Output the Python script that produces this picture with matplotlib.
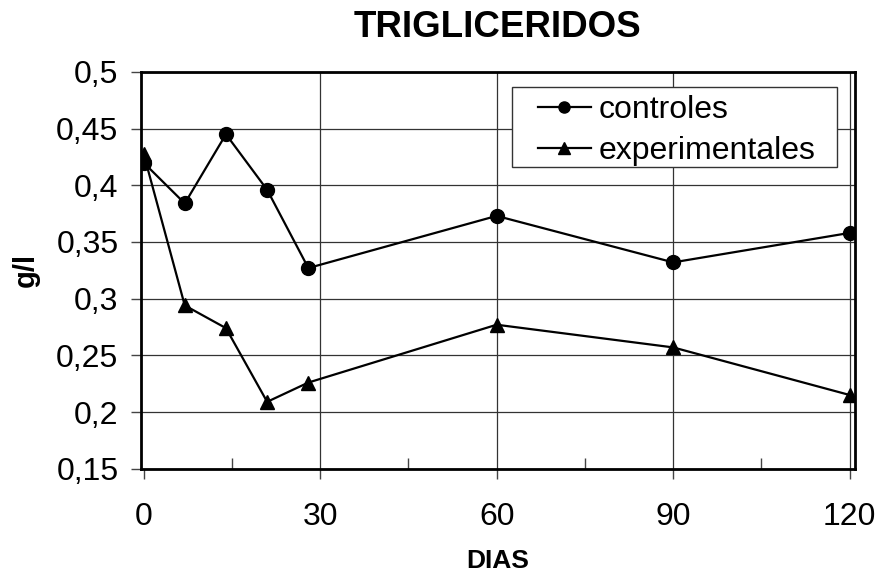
import matplotlib
matplotlib.use("Agg")
import matplotlib.pyplot as plt
import matplotlib.ticker as ticker
from matplotlib.patches import Rectangle

# days of treatment
dias = [0, 7, 14, 21, 28, 60, 90, 120]
controles = [0.420, 0.384, 0.445, 0.396, 0.327, 0.373, 0.332, 0.358]
experimentales = [0.428, 0.294, 0.274, 0.209, 0.226, 0.277, 0.257, 0.215]

y_ticks = [0.15, 0.2, 0.25, 0.3, 0.35, 0.4, 0.45, 0.5]
x_ticks = [0, 30, 60, 90, 120]


def comma_fmt(v, pos):
    return ("%g" % v).replace(".", ",")


def make_chart():
    plt.rcParams["font.family"] = ["Liberation Sans", "DejaVu Sans"]
    fig = plt.figure(figsize=(8.79, 5.73), dpi=100)
    ax = fig.add_axes([0.160, 0.182, 0.8127, 0.6925])

    ax.plot(dias, controles, color="black", lw=1.6, marker="o", markersize=10, label="controles")
    ax.plot(dias, experimentales, color="black", lw=1.6, marker="^", markersize=10, label="experimentales")

    ax.set_xlim(-0.5, 120.9)
    ax.set_ylim(0.15, 0.5)
    ax.set_xticks(x_ticks)
    ax.set_yticks(y_ticks)
    ax.xaxis.set_minor_locator(ticker.MultipleLocator(15))
    ax.yaxis.set_major_formatter(ticker.FuncFormatter(comma_fmt))
    ax.grid(True, which="major", color="#333333", lw=0.9)
    ax.xaxis.get_gridlines()[0].set_visible(False)
    ax.set_axisbelow(True)

    ax.tick_params(axis="both", which="major", direction="out", length=7, width=1, color="#444444")
    ax.tick_params(axis="x", which="major", labelsize=23, pad=17)
    ax.tick_params(axis="y", which="major", labelsize=23, pad=9)
    ax.tick_params(axis="x", which="minor", direction="in", length=8, width=1, color="#444444")
    for s in ax.spines.values():
        s.set_linewidth(2)
        s.set_color("black")

    ax.set_title("TRIGLICERIDOS", fontsize=26.5, fontweight="bold", pad=25)
    ax.set_xlabel("DIAS", fontsize=19, fontweight="bold", labelpad=12)
    ax.set_ylabel("g/l", fontsize=21, fontweight="bold", labelpad=12)

    # legend box drawn separately (wider side padding than matplotlib's borderpad)
    box = Rectangle((0.5825, 0.7086), 0.3697, 0.1396, transform=fig.transFigure,
                    facecolor="white", edgecolor="#333333", lw=1, zorder=5, clip_on=False)
    ax.add_patch(box)
    leg = ax.legend(loc="upper left", bbox_to_anchor=(0.612, 0.834), bbox_transform=fig.transFigure,
                    fontsize=23, frameon=False, handlelength=1.65, handletextpad=0.25,
                    borderpad=0, labelspacing=0.35, borderaxespad=0, markerscale=0.8)
    leg.set_zorder(6)

    fig.savefig("out.png", dpi=100)
    plt.close(fig)


if __name__ == "__main__":
    make_chart()
